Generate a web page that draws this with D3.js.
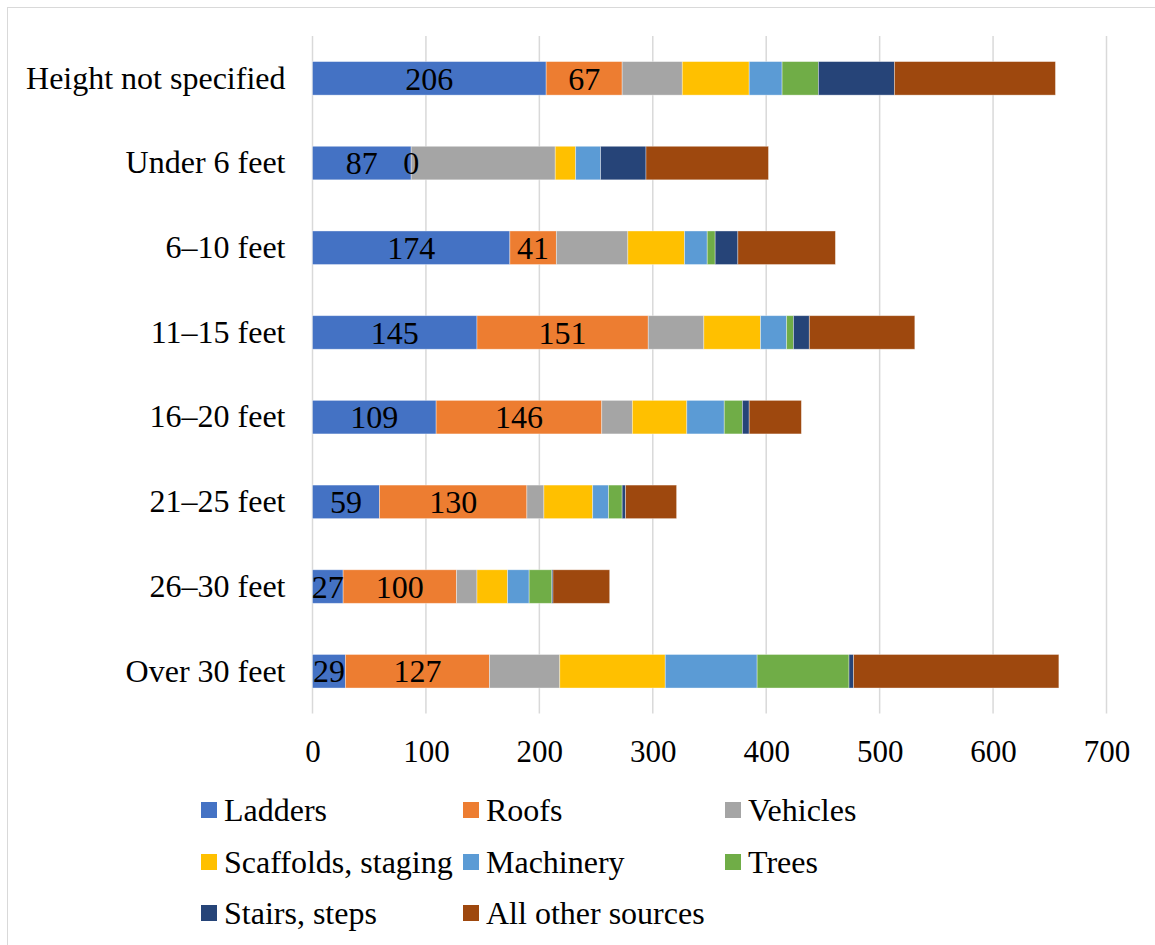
<!DOCTYPE html>
<html>
<head>
<meta charset="utf-8">
<script src="https://cdn.jsdelivr.net/npm/d3@7"></script>
<style>
  html, body { margin: 0; padding: 0; background: #fff; }
  svg { display: block; }
  svg text { font-family: "Liberation Serif", "Times New Roman", serif; }
</style>
</head>
<body>
<svg id="chart" width="1155" height="945"></svg>
<script>
// Fatal falls by height of fall and source
const heights = ["Height not specified", "Under 6 feet", "6–10 feet", "11–15 feet",
                 "16–20 feet", "21–25 feet", "26–30 feet", "Over 30 feet"];

const sources = ["Ladders", "Roofs", "Vehicles", "Scaffolds, staging",
                 "Machinery", "Trees", "Stairs, steps", "All other sources"];

const ladders    = [206, 87, 174, 145, 109, 59, 27, 29];
const roofs      = [67, 0, 41, 151, 146, 130, 100, 127];
const vehicles   = [53, 127, 63, 49, 27, 15, 18, 62];
const scaffolds  = [59, 18, 50, 50, 48, 43, 27, 93];
const machinery  = [29, 22, 20, 23, 33, 14, 19, 81];
const trees      = [32, 0, 7, 6, 16, 12, 20, 81];
const stairs     = [67, 40, 20, 14, 6, 3, 1, 4];
const otherSrc   = [142, 108, 86, 93, 46, 45, 50, 181];

const xTicks = [0, 100, 200, 300, 400, 500, 600, 700];
const labelled = ["Ladders", "Roofs"];

const colors = ["#4472C4", "#ED7D31", "#A5A5A5", "#FFC000",
                "#5B9BD5", "#70AD47", "#264478", "#9E480E"];

const FONT = "Liberation Serif, Times New Roman, serif";

const seriesValues = [ladders, roofs, vehicles, scaffolds, machinery, trees, stairs, otherSrc];
const rows = heights.map((h, i) => {
  const r = { height: h };
  sources.forEach((s, j) => { r[s] = seriesValues[j][i]; });
  return r;
});

const svg = d3.select("#chart").attr("font-family", FONT);

// chart area frame
svg.append("rect")
  .attr("x", 7.5).attr("y", 7.5)
  .attr("width", 1160).attr("height", 950)
  .attr("fill", "none").attr("stroke", "#d9d9d9").attr("stroke-width", 1);

const plot = { left: 312.5, right: 1106.5, top: 36, bottom: 713.6 };

const x = d3.scaleLinear().domain([0, 700]).range([plot.left, plot.right]);
const y = d3.scaleBand().domain(heights).range([plot.top, plot.bottom]).paddingInner(0.604).paddingOuter(0.302);
const color = d3.scaleOrdinal().domain(sources).range(colors);

// vertical gridlines
svg.append("g")
  .selectAll("line")
  .data(xTicks)
  .join("line")
  .attr("x1", d => x(d)).attr("x2", d => x(d))
  .attr("y1", plot.top).attr("y2", plot.bottom)
  .attr("stroke", "#d9d9d9").attr("stroke-width", 1.5);

// x axis labels
const xAxis = d3.axisBottom(x).tickValues(xTicks).tickSize(0).tickPadding(0).tickFormat(d3.format("d"));
svg.append("g")
  .attr("transform", `translate(0,${plot.bottom})`)
  .call(xAxis)
  .attr("font-family", FONT)
  .call(g => g.select(".domain").remove())
  .call(g => g.selectAll("text")
    .attr("font-family", FONT)
    .attr("font-size", 31).attr("fill", "#000")
    .attr("dy", null).attr("y", 48));

// category axis labels
const yAxis = d3.axisLeft(y).tickSize(0).tickPadding(27);
svg.append("g")
  .attr("transform", `translate(${plot.left},0)`)
  .call(yAxis)
  .attr("font-family", FONT)
  .call(g => g.select(".domain").remove())
  .call(g => g.selectAll("text")
    .attr("font-family", FONT)
    .attr("font-size", 32).attr("fill", "#000"));

// stacked bars
const stack = d3.stack().keys(sources);
const layers = stack(rows);

const layerG = svg.append("g")
  .selectAll("g")
  .data(layers)
  .join("g")
  .attr("fill", d => color(d.key));

layerG.selectAll("rect")
  .data(d => d.map(p => ({ p, key: d.key })))
  .join("rect")
  .attr("x", d => x(d.p[0]))
  .attr("y", d => y(d.p.data.height))
  .attr("width", d => x(d.p[1]) - x(d.p[0]))
  .attr("height", y.bandwidth())
  .attr("stroke", "#ffffff").attr("stroke-opacity", 0.45).attr("stroke-width", 0.8);

// value labels on the first two series
const labelLayers = layers.filter(l => labelled.includes(l.key));
svg.append("g")
  .selectAll("g")
  .data(labelLayers)
  .join("g")
  .selectAll("text")
  .data(d => d)
  .join("text")
  .attr("x", p => (x(p[0]) + x(p[1])) / 2)
  .attr("y", p => y(p.data.height) + y.bandwidth() / 2)
  .attr("dy", "0.35em")
  .attr("text-anchor", "middle")
  .attr("font-family", FONT)
  .attr("font-size", 32)
  .attr("fill", "#000")
  .text(p => p[1] - p[0]);

// legend
const legendCols = [201, 463, 725];
const legendRows = [810, 862, 913];
const legend = svg.append("g")
  .selectAll("g")
  .data(sources)
  .join("g")
  .attr("transform", (d, i) => `translate(${legendCols[i % 3]},${legendRows[Math.floor(i / 3)]})`);

legend.append("rect")
  .attr("x", 0).attr("y", -8)
  .attr("width", 16).attr("height", 16)
  .attr("fill", d => color(d));

legend.append("text")
  .attr("x", 23).attr("y", 0).attr("dy", "0.35em")
  .attr("font-family", FONT)
  .attr("font-size", 32).attr("fill", "#000")
  .text(d => d);
</script>
</body>
</html>
